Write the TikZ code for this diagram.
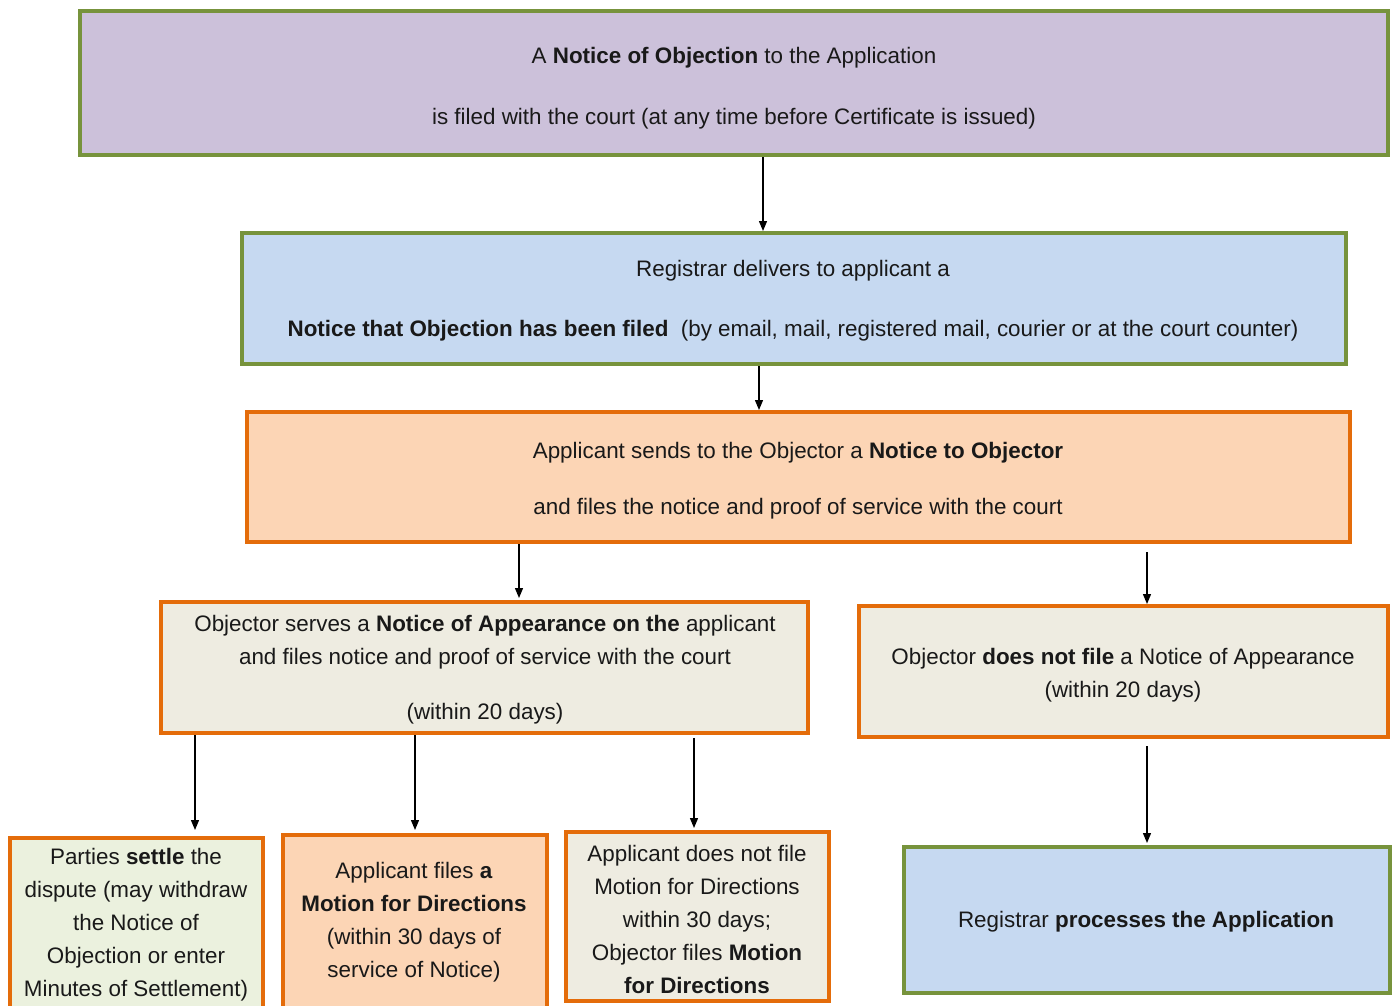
\documentclass[tikz,border=0pt]{standalone}
\usepackage{fontspec}
\setmainfont{Liberation Sans}
\usetikzlibrary{arrows.meta}
\definecolor{grn}{HTML}{77933C}
\definecolor{org}{HTML}{E46C0A}
\definecolor{purp}{HTML}{CCC1DA}
\definecolor{blu}{HTML}{C6D9F1}
\definecolor{peach}{HTML}{FCD5B5}
\definecolor{beige}{HTML}{EEECE1}
\definecolor{lgrn}{HTML}{EBF1DE}
\tikzset{
  box/.style={draw, line width=4pt, outer sep=0pt, inner sep=0pt, rectangle},
  gbox/.style={box, draw=grn},
  obox/.style={box, draw=org},
  txt/.style={align=center, inner sep=0pt, font=\fontsize{22.4}{33}\selectfont, text=black!90},
  arr/.style={line width=1.3pt, -{Triangle[length=10pt,width=8pt]}}
}
\begin{document}
\begin{tikzpicture}[x=1pt,y=-1pt]
\useasboundingbox (0,0) rectangle (1392,1005);
\clip (0,0) rectangle (1392,1005);
% boxes
\node[gbox, fill=purp, minimum width=1308pt, minimum height=144pt] (b1) at (734,83) {};
\node[gbox, fill=blu, minimum width=1104pt, minimum height=131pt] (b2) at (794,298.5) {};
\node[obox, fill=peach, minimum width=1103pt, minimum height=130pt] (b3) at (798.5,477) {};
\node[obox, fill=beige, minimum width=647pt, minimum height=131pt] (b4) at (484.5,667.5) {};
\node[obox, fill=beige, minimum width=529pt, minimum height=131pt] (b5) at (1123.5,671.5) {};
\node[obox, fill=lgrn, minimum width=253pt, minimum height=182pt] (b6) at (136.5,929) {};
\node[obox, fill=peach, minimum width=264pt, minimum height=185pt] (b7) at (415,927.5) {};
\node[obox, fill=beige, minimum width=263pt, minimum height=169pt] (b8) at (697.5,916.5) {};
\node[gbox, fill=blu, minimum width=486pt, minimum height=146pt] (b9) at (1147,920) {};
% texts
\node[txt] (t1) at (734,88) {A \textbf{Notice of Objection} to the Application\\[28pt]is filed with the court (at any time before Certificate is issued)};
\node[txt] (t2) at (793,300.5) {Registrar delivers to applicant a\\[27pt]\textbf{Notice that Objection has been filed}\ \ (by email, mail, registered mail, courier or at the court counter)};
\node[txt] (t3) at (798,480.5) {Applicant sends to the Objector a \textbf{Notice to Objector}\\[23pt]and files the notice and proof of service with the court};
\node[txt] (t4) at (485,669.5) {Objector serves a \textbf{Notice of Appearance on the} applicant\\and files notice and proof of service with the court\\[22pt](within 20 days)};
\node[txt] (t5) at (1123,675) {Objector \textbf{does not file} a Notice of Appearance\\(within 20 days)};
\node[txt] (t6) at (136,925) {Parties \textbf{settle} the\\dispute (may withdraw\\the Notice of\\Objection or enter\\Minutes of Settlement)};
\node[txt] (t7) at (414,922) {Applicant files \textbf{a}\\\textbf{Motion for Directions}\\(within 30 days of\\service of Notice)};
\node[txt] (t8) at (697,919) {Applicant does not file\\Motion for Directions\\within 30 days;\\Objector files \textbf{Motion}\\\textbf{for Directions}};
\node[txt] (t9) at (1146,922) {Registrar \textbf{processes the Application}};
% arrow x positions
\coordinate (x12) at (763,0);
\coordinate (x23) at (759,0);
\coordinate (x34) at (519,0);
\coordinate (x35) at (1147,0);
\coordinate (x46) at (195,0);
\coordinate (x47) at (415,0);
\coordinate (x48) at (694,0);
\coordinate (x59) at (1147,0);
\draw[arr, shorten <=2pt, shorten >=2pt] (b1.south -| x12) -- (b2.north -| x12);
\draw[arr, shorten <=2pt, shorten >=2pt] (b2.south -| x23) -- (b3.north -| x23);
\draw[arr, shorten <=2pt, shorten >=4pt] (b3.south -| x34) -- (b4.north -| x34);
\draw[arr, shorten <=10pt, shorten >=2pt] (b3.south -| x35) -- (b5.north -| x35);
\draw[arr, shorten <=2pt, shorten >=8pt] (b4.south -| x46) -- (b6.north -| x46);
\draw[arr, shorten <=2pt, shorten >=5pt] (b4.south -| x47) -- (b7.north -| x47);
\draw[arr, shorten <=5pt, shorten >=4pt] (b4.south -| x48) -- (b8.north -| x48);
\draw[arr, shorten <=9pt, shorten >=4pt] (b5.south -| x59) -- (b9.north -| x59);
\end{tikzpicture}
\end{document}
